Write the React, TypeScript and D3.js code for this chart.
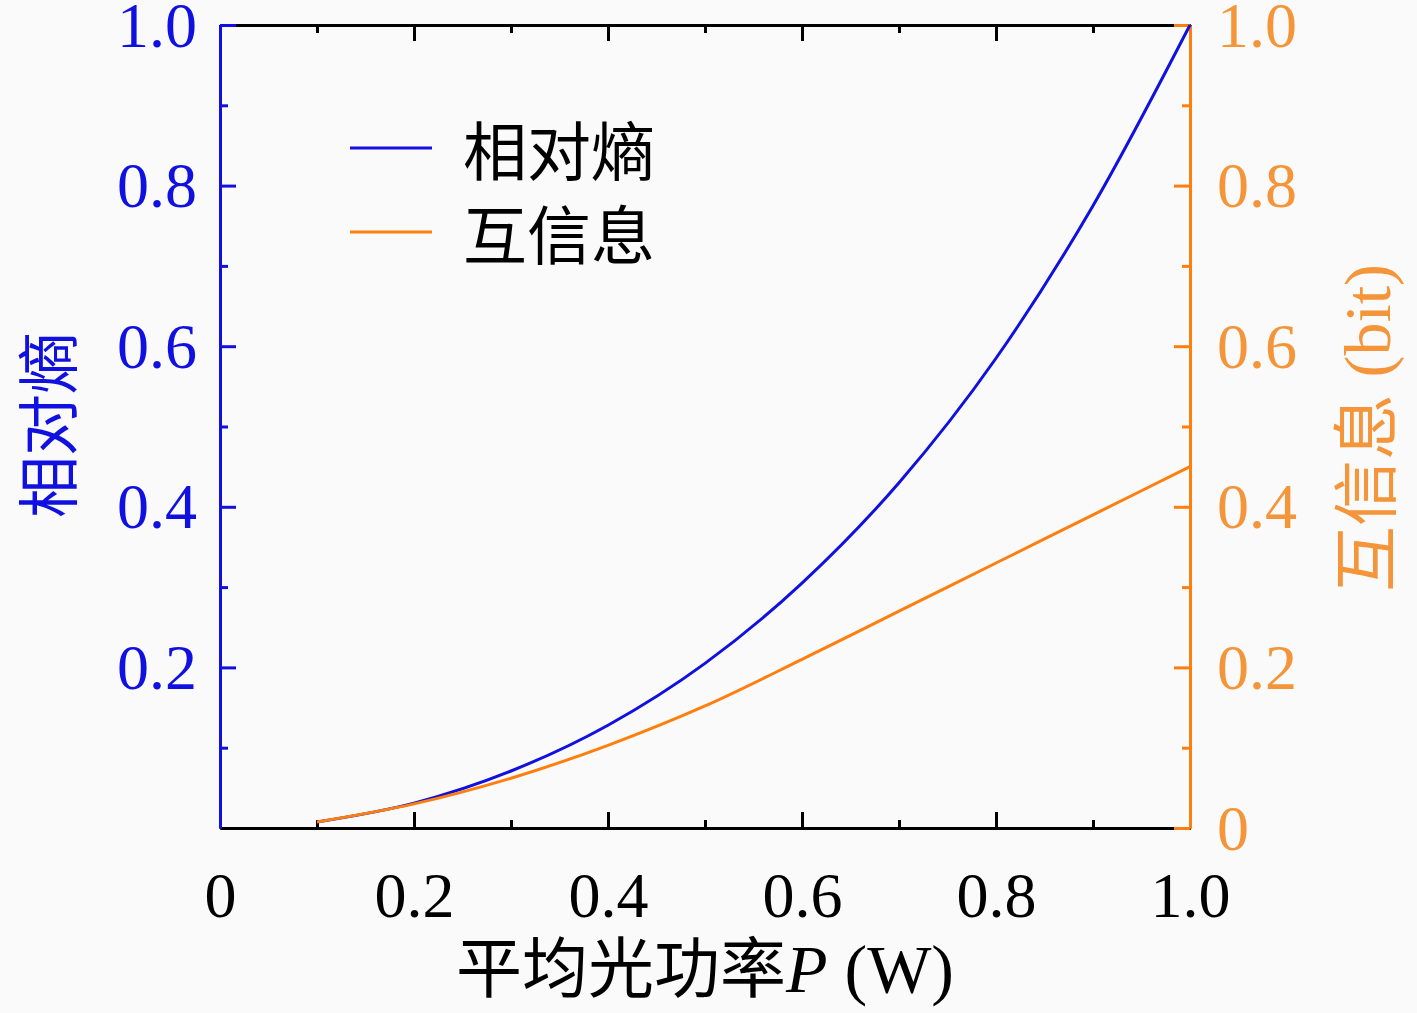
import { useEffect, useRef } from 'react';
import * as d3 from 'd3';

// values
const powerW = [0.1, 0.2, 0.3, 0.4, 0.5, 0.6, 0.7, 0.8, 0.9, 1.0];
const relEntropy = [0.0075, 0.031, 0.071, 0.128, 0.205, 0.305, 0.43, 0.585, 0.775, 1.0];
const mutualInfo = [0.0075, 0.03, 0.062, 0.103, 0.152, 0.21, 0.27, 0.33, 0.39, 0.45];

const majorTicks = [0, 0.2, 0.4, 0.6, 0.8, 1.0];
const minorTicks = [0.1, 0.3, 0.5, 0.7, 0.9];
const leftTickValues = [0.2, 0.4, 0.6, 0.8, 1.0];

const seriesNames = ['相对熵', '互信息'];
const xLabel = '平均光功率';
const rightLabel = '互信息';

const BLUE = '#1010e0';
const ORANGE = '#ff7f0e';
const ORANGE_TEXT = '#f5953a';
const SERIF = '"Liberation Serif", "DejaVu Serif", serif';
const CJK = '"Noto Sans CJK SC", sans-serif';

const fmt = (d: number) => (d === 0 ? '0' : d3.format('.1f')(d));

export default function App() {
  const svgRef = useRef<SVGSVGElement>(null);

  useEffect(() => {
    if (!svgRef.current) return;
    const svg = d3.select(svgRef.current);
    svg.selectAll('*').remove();

    const margin = { top: 25, right: 227, bottom: 185, left: 220 };
    const W = 1417;
    const H = 1013;
    const width = W - margin.left - margin.right;
    const height = H - margin.top - margin.bottom;

    const x = d3.scaleLinear().domain([0, 1]).range([0, width]);
    const yL = d3.scaleLinear().domain([0, 1]).range([height, 0]);
    const yR = d3.scaleLinear().domain([0, 1]).range([height, 0]);

    const g = svg.append('g').attr('transform', `translate(${margin.left},${margin.top})`);

    const styleAxis = (sel: d3.Selection<SVGGElement, unknown, null, undefined>, color: string, size: number) => {
      sel.select('.domain').attr('stroke', color).attr('stroke-width', 3);
      sel.selectAll('.tick line').attr('stroke', color).attr('stroke-width', 3);
      sel.selectAll('.tick text').attr('fill', color).style('font-family', SERIF).style('font-size', `${size}px`);
    };

    // minor ticks first, majors on top
    const minorBottom = g.append('g').attr('transform', `translate(0,${height})`)
      .call(d3.axisBottom(x).tickValues(minorTicks).tickSizeInner(-8).tickSizeOuter(0).tickFormat(() => ''));
    styleAxis(minorBottom, '#000', 10);
    const minorTop = g.append('g')
      .call(d3.axisTop(x).tickValues(minorTicks).tickSizeInner(-8).tickSizeOuter(0).tickFormat(() => ''));
    styleAxis(minorTop, '#000', 10);
    const minorLeft = g.append('g')
      .call(d3.axisLeft(yL).tickValues(minorTicks).tickSizeInner(-8).tickSizeOuter(0).tickFormat(() => ''));
    styleAxis(minorLeft, BLUE, 10);
    const minorRight = g.append('g').attr('transform', `translate(${width},0)`)
      .call(d3.axisRight(yR).tickValues(minorTicks).tickSizeInner(-8).tickSizeOuter(0).tickFormat(() => ''));
    styleAxis(minorRight, ORANGE, 10);

    const bottom = g.append('g').attr('transform', `translate(0,${height})`)
      .call(d3.axisBottom(x).tickValues(majorTicks).tickSizeInner(-16).tickSizeOuter(0).tickPadding(44).tickFormat(d => fmt(+d)));
    styleAxis(bottom, '#000', 64);

    const top = g.append('g')
      .call(d3.axisTop(x).tickValues(majorTicks).tickSizeInner(-16).tickSizeOuter(0).tickFormat(() => ''));
    styleAxis(top, '#000', 10);

    const left = g.append('g')
      .call(d3.axisLeft(yL).tickValues(leftTickValues).tickSizeInner(-16).tickSizeOuter(0).tickPadding(23).tickFormat(d => fmt(+d)));
    styleAxis(left, BLUE, 64);
    left.selectAll('.tick text').attr('dy', '0.33em');

    const right = g.append('g').attr('transform', `translate(${width},0)`)
      .call(d3.axisRight(yR).tickValues(majorTicks).tickSizeInner(-16).tickSizeOuter(0).tickPadding(27).tickFormat(d => fmt(+d)));
    styleAxis(right, ORANGE, 64);
    right.selectAll('.tick text').attr('dy', '0.33em').attr('fill', ORANGE_TEXT);

    left.select('.domain').raise();

    const line = (ys: number[], scale: d3.ScaleLinear<number, number>) =>
      d3.line<number>()
        .x((_, i) => x(powerW[i]))
        .y(d => scale(d))
        .curve(d3.curveMonotoneX)(ys);

    g.append('path').attr('d', line(relEntropy, yL)).attr('fill', 'none').attr('stroke', BLUE).attr('stroke-width', 3);
    g.append('path').attr('d', line(mutualInfo, yR)).attr('fill', 'none').attr('stroke', ORANGE).attr('stroke-width', 3);

    // legend
    const legend = g.append('g').attr('transform', `translate(${350 - margin.left},${148 - margin.top})`);
    [BLUE, ORANGE].forEach((c, i) => {
      legend.append('line').attr('x1', 0).attr('x2', 82).attr('y1', i * 84).attr('y2', i * 84)
        .attr('stroke', c).attr('stroke-width', 3);
      legend.append('text').attr('x', 113).attr('y', i * 84).attr('dy', '0.42em')
        .style('font-family', CJK).style('font-size', '64px').attr('fill', '#000')
        .text(seriesNames[i]);
    });

    // axis titles
    const xt = svg.append('text').attr('x', margin.left + width / 2).attr('y', 992)
      .attr('text-anchor', 'middle').attr('fill', '#000');
    xt.append('tspan').style('font-family', CJK).style('font-size', '66px').text(xLabel);
    xt.append('tspan').style('font-family', SERIF).style('font-size', '68px').style('font-style', 'italic').text('P');
    xt.append('tspan').style('font-family', SERIF).style('font-size', '68px').text(' (W)');

    svg.append('text').attr('transform', `translate(72,425) rotate(-90)`)
      .attr('text-anchor', 'middle').attr('fill', BLUE)
      .style('font-family', CJK).style('font-size', '62px').text(seriesNames[0]);

    const rt = svg.append('text').attr('transform', `translate(1390,428) rotate(-90)`)
      .attr('text-anchor', 'middle').attr('fill', ORANGE_TEXT);
    rt.append('tspan').style('font-family', CJK).style('font-size', '66px').text(rightLabel);
    rt.append('tspan').style('font-family', SERIF).style('font-size', '66px').text(' (bit)');
  }, []);

  return (
    <svg ref={svgRef} width={1417} height={1013}
      style={{ position: 'absolute', left: 0, top: 0, background: '#fafafa' }} />
  );
}
